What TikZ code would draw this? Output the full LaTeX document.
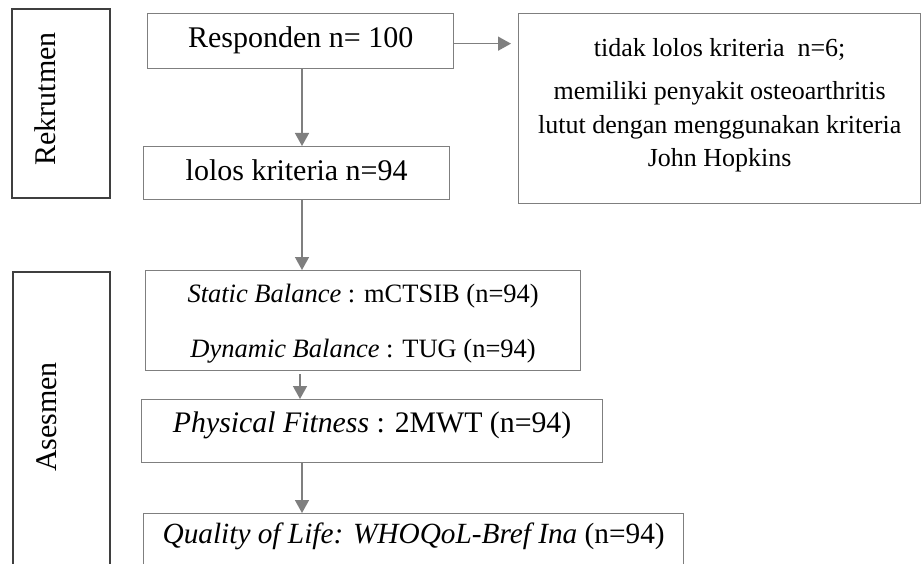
\documentclass[tikz,border=0pt]{standalone}
\usepackage{fontspec}
\setmainfont{Liberation Serif}
\usetikzlibrary{arrows.meta}
\definecolor{boxgray}{HTML}{7F7F7F}
\definecolor{phasegray}{HTML}{3F3F3F}
\tikzset{
  flowbox/.style={draw=boxgray,line width=1.3pt,inner sep=0pt,anchor=north west},
  phasebox/.style={draw=phasegray,line width=1.3pt,inner sep=0pt,rotate=90,
    font=\fontsize{30}{36}\selectfont},
  flow/.style={->,draw=boxgray,line width=1.5pt},
}

\begin{document}
\begin{tikzpicture}[x=1pt,y=-1pt,>={Triangle[length=13pt,width=14pt]}]
  \useasboundingbox (0,0) rectangle (921,564);
  \clip (0,0) rectangle (921,564);

  \node[phasebox,text height=43pt,text depth=55pt,minimum width=189pt]
    (rekrut) at (61,103.5) {\hspace{9pt}Rekrutmen};
  \node[phasebox,text height=43pt,text depth=54pt,minimum width=296pt]
    (asesmen) at (61.5,420) {\hspace{6pt}Asesmen};

  \node[flowbox,minimum width=306pt,text height=34pt,text depth=21pt,
    font=\fontsize{30}{36}\selectfont] (resp) at (147,13) {Responden n= 100};
  \node[flowbox,minimum width=306pt,text height=34pt,text depth=19pt,
    font=\fontsize{30}{36}\selectfont] (lolos) at (143,146) {lolos kriteria n=94};
  \node[flowbox,minimum width=402pt,text height=153pt,text depth=37pt,align=center,
    font=\fontsize{26}{33.5}\selectfont] (exclude) at (518,13)
    {tidak lolos kriteria\ \ n=6;\\[9.5pt]
     memiliki penyakit osteoarthritis\\
     lutut dengan menggunakan kriteria\\
     John Hopkins};

  \node[flowbox,minimum width=435pt,text height=87pt,text depth=13pt,align=center,
    font=\fontsize{26.5}{55}\selectfont] (static) at (145,270)
    {\textit{Static Balance} : mCTSIB (n=94)\\
     \textit{Dynamic Balance} : TUG (n=94)};
  \node[flowbox,minimum width=461pt,text height=33pt,text depth=30pt,
    font=\fontsize{29.8}{34}\selectfont] (phys) at (141,399)
    {\textit{Physical Fitness} : 2MWT (n=94)};
  \node[flowbox,minimum width=540pt,text height=30pt,text depth=60pt,
    font=\fontsize{29.3}{34}\selectfont] (qol) at (143,513)
    {\textit{Quality of Life: WHOQoL-Bref Ina} (n=94)};

  \coordinate (spine) at (302,0);
  \draw[flow] (resp.south -| spine) -- (lolos.north -| spine);
  \draw[flow] (lolos.south -| spine) -- (static.north -| spine);
  \draw[flow,shorten <=3pt] ([xshift=-2pt]static.south -| spine)
    -- ([xshift=-2pt]phys.north -| spine);
  \draw[flow] (phys.south -| spine) -- (qol.north -| spine);
  \draw[flow,shorten >=7pt] ([yshift=-2.5pt]resp.east)
    -- ([yshift=-2.5pt]resp.east -| exclude.west);
\end{tikzpicture}
\end{document}
